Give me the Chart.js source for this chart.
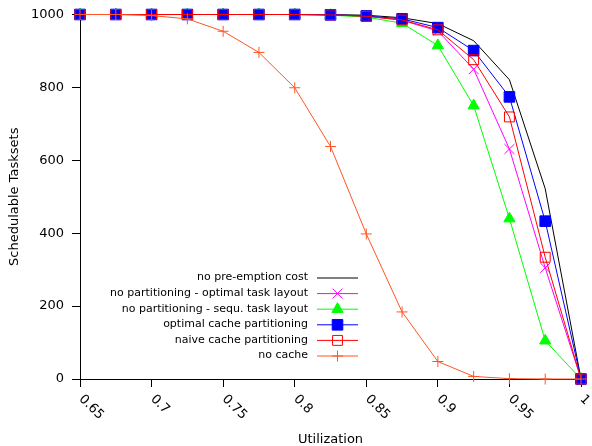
<!DOCTYPE html>
<html lang="en">
<head>
  <meta charset="UTF-8" />
  <title>Schedulable Tasksets vs Utilization</title>
  <script src="https://cdn.jsdelivr.net/npm/chart.js"></script>
  <style>
    body {
      margin: 0;
      background: white;
    }
    canvas {
      display: block;
    }
  </style>
</head>
<body>
  <canvas id="chart" width="592" height="446"></canvas>

  <script>
    // utilization steps
    const utilization = [0.65, 0.675, 0.7, 0.725, 0.75, 0.775, 0.8, 0.825, 0.85, 0.875, 0.9, 0.925, 0.95, 0.975, 1.0];

    const noPreemptionCost  = [1000, 1000, 1000, 1000, 1000, 1000, 1000, 1000, 998, 991, 975, 928, 821, 522, 0];
    const noPartOptLayout   = [1000, 1000, 1000, 1000, 1000, 1000, 1000, 999, 996, 984, 955, 850, 631, 305, 0];
    const noPartSequLayout  = [1000, 1000, 1000, 1000, 1000, 1000, 1000, 998, 993, 976, 915, 750, 440, 105, 0];
    const optimalCachePart  = [1000, 1000, 1000, 1000, 1000, 1000, 1000, 999, 996, 988, 964, 901, 774, 433, 0];
    const naiveCachePart    = [1000, 1000, 1000, 1000, 1000, 1000, 1000, 999, 995, 985, 958, 876, 719, 334, 0];
    const noCache           = [1000, 1000, 997, 988, 954, 896, 799, 638, 398, 184, 48, 7, 1, 0, 0];

    const seriesNames = [
      "no pre-emption cost",
      "no partitioning - optimal task layout",
      "no partitioning - sequ. task layout",
      "optimal cache partitioning",
      "naive cache partitioning",
      "no cache"
    ];

    const xTickValues = [0.65, 0.7, 0.75, 0.8, 0.85, 0.9, 0.95, 1.0];
    const xTickLabels = ["0.65", "0.7", "0.75", "0.8", "0.85", "0.9", "0.95", "1"];

    const FONT = '"DejaVu Sans", sans-serif';

    function pts(arr) {
      return utilization.map((u, i) => ({ x: u, y: arr[i] }));
    }

    function series(i, values, color, style, radius, fill) {
      return {
        label: seriesNames[i],
        data: pts(values),
        borderColor: color,
        borderWidth: 1,
        backgroundColor: fill,
        pointStyle: style,
        pointRadius: radius,
        pointBorderColor: color,
        pointBackgroundColor: fill,
        pointBorderWidth: 1,
        pointHoverRadius: radius,
        tension: 0,
        clip: false,
        order: 6 - i // later series drawn on top, like gnuplot
      };
    }

    const datasets = [
      series(0, noPreemptionCost, "#000000", false, 0, "#000000"),
      series(1, noPartOptLayout, "#ff00ff", "crossRot", 7, "#ff00ff"),
      series(2, noPartSequLayout, "#00ff00", "triangle", 6.5, "#00ff00"),
      series(3, optimalCachePart, "#0000ff", "rect", 7.5, "#0000ff"),
      series(4, naiveCachePart, "#ff0000", "rect", 7, "rgba(0,0,0,0)"),
      series(5, noCache, "#ff5522", "cross", 5.5, "#ff5522")
    ];

    // x tick labels rotated downwards, gnuplot style
    const xLabelsPlugin = {
      id: "xLabels",
      afterDraw(chart) {
        const ctx = chart.ctx;
        const xs = chart.scales.x;
        ctx.save();
        ctx.font = "13px " + FONT;
        ctx.fillStyle = "#000";
        ctx.textAlign = "left";
        ctx.textBaseline = "middle";
        xTickValues.forEach((v, i) => {
          const px = xs.getPixelForValue(v);
          ctx.save();
          ctx.translate(px + 1, 397);
          ctx.rotate(Math.PI / 4);
          ctx.fillText(xTickLabels[i], 0, 0);
          ctx.restore();
        });
        ctx.restore();
      }
    };

    // key inside the plot: text right aligned, sample on the right
    const keyPlugin = {
      id: "key",
      afterDraw(chart) {
        const ctx = chart.ctx;
        ctx.save();
        ctx.font = "11px " + FONT;
        ctx.textAlign = "right";
        ctx.textBaseline = "middle";
        datasets.forEach((ds, i) => {
          const y = 277.5 + i * 15.6;
          ctx.fillStyle = "#000";
          ctx.fillText(ds.label, 308, y);
          ctx.strokeStyle = ds.borderColor;
          ctx.lineWidth = 1;
          ctx.beginPath();
          ctx.moveTo(317, y + 0.5);
          ctx.lineTo(358, y + 0.5);
          ctx.stroke();
          if (ds.pointStyle && ds.pointRadius > 0) {
            ctx.fillStyle = ds.pointBackgroundColor;
            ctx.strokeStyle = ds.pointBorderColor;
            Chart.helpers.drawPoint(ctx, {
              pointStyle: ds.pointStyle,
              radius: ds.pointRadius,
              rotation: 0,
              borderWidth: 1
            }, 337.5, y + 0.5);
          }
        });
        ctx.restore();
      }
    };

    new Chart(document.getElementById("chart"), {
      type: "line",
      data: { datasets },
      options: {
        responsive: false,
        animation: false,
        layout: { padding: { top: 13, right: 11, left: 0, bottom: 0 } },
        plugins: {
          legend: { display: false },
          tooltip: { enabled: false }
        },
        scales: {
          x: {
            type: "linear",
            min: 0.65,
            max: 1.0,
            afterFit: s => { s.height = 67; },
            afterBuildTicks: s => { s.ticks = xTickValues.map(v => ({ value: v })); },
            ticks: {
              display: false
            },
            grid: {
              drawOnChartArea: false,
              drawTicks: true,
              tickLength: 8,
              tickColor: "#000"
            },
            border: { color: "#000", width: 1 },
            title: {
              display: true,
              text: "Utilization",
              color: "#000",
              font: { family: FONT, size: 13, lineHeight: 1 },
              padding: { top: 0, bottom: 0 }
            }
          },
          y: {
            min: 0,
            max: 1000,
            afterFit: s => { s.width = 80; },
            ticks: {
              stepSize: 200,
              color: "#000",
              padding: 8,
              callback: v => String(v),
              font: { family: FONT, size: 13, lineHeight: 1 }
            },
            grid: {
              drawOnChartArea: false,
              drawTicks: true,
              tickLength: 8,
              tickColor: "#000"
            },
            border: { color: "#000", width: 1 },
            title: {
              display: true,
              text: "Schedulable Tasksets",
              color: "#000",
              font: { family: FONT, size: 13, lineHeight: 1 },
              padding: { top: 8, bottom: 0 }
            }
          }
        }
      },
      plugins: [xLabelsPlugin, keyPlugin]
    });
  </script>
</body>
</html>
